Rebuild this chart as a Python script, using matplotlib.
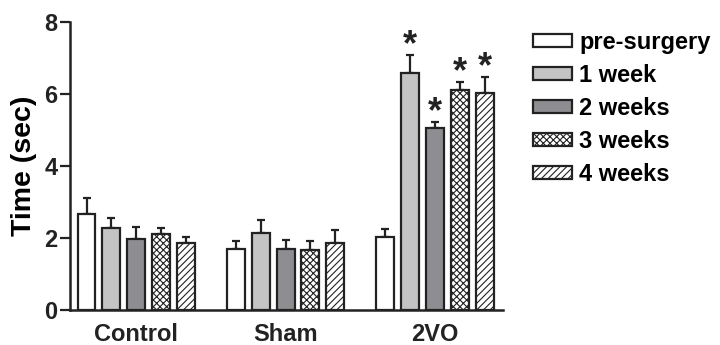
import numpy as np
import matplotlib
matplotlib.use("Agg")
import matplotlib.pyplot as plt

plt.rcParams['font.family'] = ['Liberation Sans', 'DejaVu Sans']
plt.rcParams['font.weight'] = 'bold'
plt.rcParams['hatch.linewidth'] = 0.8

groups = ["Control", "Sham", "2VO"]
series = ["pre-surgery", "1 week", "2 weeks", "3 weeks", "4 weeks"]

# mean values per series, one entry per group
means = {
    "pre-surgery": [2.68, 1.71, 2.02],
    "1 week":      [2.28, 2.15, 6.58],
    "2 weeks":     [1.96, 1.71, 5.06],
    "3 weeks":     [2.10, 1.66, 6.10],
    "4 weeks":     [1.87, 1.87, 6.01],
}
# upper error (SEM)
errs = {
    "pre-surgery": [0.42, 0.21, 0.22],
    "1 week":      [0.29, 0.35, 0.50],
    "2 weeks":     [0.35, 0.23, 0.16],
    "3 weeks":     [0.17, 0.26, 0.23],
    "4 weeks":     [0.15, 0.35, 0.45],
}
# significance marks (2VO group only)
signif = {
    "pre-surgery": [False, False, False],
    "1 week":      [False, False, True],
    "2 weeks":     [False, False, True],
    "3 weeks":     [False, False, True],
    "4 weeks":     [False, False, True],
}

faces = ["white", "#c4c4c4", "#8e8e92", "white", "white"]
hatches = [None, None, None, "xxxxx", "/////"]
edge = "#222222"

fig = plt.figure(figsize=(7.2, 3.45), dpi=100)
ax = fig.add_axes([0.097, 0.101, 0.602, 0.836])

gap = 6
width = 0.72
for i, s in enumerate(series):
    x = np.arange(len(groups)) * gap + i
    ax.bar(x, means[s], width, color=faces[i], edgecolor=edge, linewidth=1.6,
           hatch=hatches[i], label=s, zorder=2)
    ax.errorbar(x, means[s], yerr=[np.zeros(len(groups)), errs[s]], fmt="none",
                ecolor=edge, elinewidth=1.6, capsize=3.2, capthick=1.6, zorder=1)
    for j in range(len(groups)):
        if signif[s][j]:
            ax.annotate("*", (x[j], means[s][j] + errs[s][j]), xytext=(0, 0),
                        textcoords="offset points", ha="center", va="baseline",
                        fontsize=26, fontweight="bold", color=edge)

ax.set_xlim(-0.67, 16.75)
ax.set_ylim(0, 8)
ax.set_yticks([0, 2, 4, 6, 8])
ax.set_xticks(np.arange(len(groups)) * gap + 2)
ax.set_xticklabels(groups)
ax.set_ylabel("Time (sec)", fontsize=20.5, fontweight="bold", labelpad=5)
ax.tick_params(axis="y", labelsize=17, width=1.6, length=7, pad=2, colors=edge)
ax.tick_params(axis="x", labelsize=17, length=0, pad=9, colors=edge)
for sp in ["top", "right"]:
    ax.spines[sp].set_visible(False)
for sp in ["left", "bottom"]:
    ax.spines[sp].set_linewidth(1.8)
    ax.spines[sp].set_color(edge)

fig.legend(loc="upper left", bbox_to_anchor=(0.740, 0.91), frameon=False,
           fontsize=17, handlelength=1.67, handleheight=0.5, handletextpad=0.3,
           labelspacing=0.42, borderpad=0, borderaxespad=0)

fig.savefig("out.png", dpi=100)
